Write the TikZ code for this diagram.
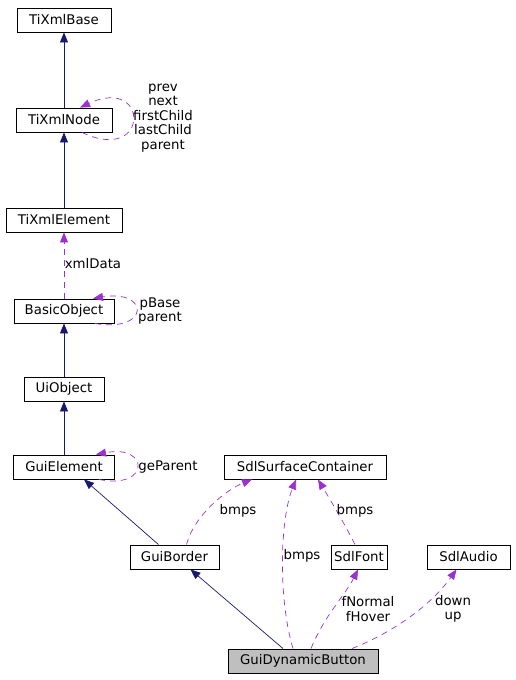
\documentclass[tikz,border=0pt]{standalone}
\usepackage{fontspec}
\setmainfont{DejaVu Sans}
\usepackage{xcolor}
\usepackage{tikz}
\usetikzlibrary{arrows.meta,calc}

\definecolor{inhblue}{HTML}{191970}
\definecolor{usepurple}{HTML}{9A32CD}
\definecolor{mainfill}{HTML}{BFBFBF}

\tikzset{
  classbox/.style={draw=black, line width=0.9pt, minimum height=24pt, inner sep=0pt,
    font=\fontsize{13.3}{14.5}\selectfont},
  inherit/.style={draw=inhblue, line width=0.7pt, -{Triangle[length=10pt,width=8pt]}, inhblue},
  member/.style={draw=usepurple, line width=0.7pt, dash pattern=on 6pt off 5pt,
    -{Triangle[length=10pt,width=8pt]}, usepurple},
  varname/.style={align=center, inner sep=0pt, font=\fontsize{13.3}{14.5}\selectfont}
}

\begin{document}
\begin{tikzpicture}[x=1pt, y=-1pt]
      \useasboundingbox (0,0) rectangle (515,680);

      % Draw classes
      \node[classbox, minimum width=94pt] (TiXmlBase) at (64,20) {TiXmlBase};
      \node[classbox, minimum width=96pt] (TiXmlNode) at (64,120) {TiXmlNode};
      \node[classbox, minimum width=116pt] (TiXmlElement) at (64,220) {TiXmlElement};
      \node[classbox, minimum width=100pt] (BasicObject) at (64,311) {BasicObject};
      \node[classbox, minimum width=80pt] (UiObject) at (64,389) {UiObject};
      \node[classbox, minimum width=101pt] (GuiElement) at (64,467) {GuiElement};
      \node[classbox, minimum width=162pt] (SdlSurfaceContainer) at (305,467) {SdlSurfaceContainer};
      \node[classbox, minimum width=89pt] (GuiBorder) at (174.5,557) {GuiBorder};
      \node[classbox, minimum width=56pt] (SdlFont) at (359,557) {SdlFont};
      \node[classbox, minimum width=83pt] (SdlAudio) at (468.5,557) {SdlAudio};
      \node[classbox, minimum width=150pt, fill=mainfill] (GuiDynamicButton) at (303,661) {GuiDynamicButton};

      % Inheritance
      \draw[inherit] (TiXmlNode) -- (TiXmlBase);
      \draw[inherit] (TiXmlElement) -- (TiXmlNode);
      \draw[inherit] (UiObject) -- (BasicObject);
      \draw[inherit] (GuiElement) -- (UiObject);
      \draw[inherit] ($(GuiBorder.north)-(16,0)$) -- ($(GuiElement.south)+(20,0)$);
      \draw[inherit] ($(GuiDynamicButton.north)-(20,0)$) -- ($(GuiBorder.south)+(16,0)$);

      % Members
      \draw[member] (BasicObject) -- (TiXmlElement);
      \draw[member] ($(TiXmlNode.south)+(18,0)$) .. controls (150,165) and (150,75) .. ($(TiXmlNode.north)+(16,0)$);
      \draw[member] ($(BasicObject.south)+(31,0)$) .. controls (150,333) and (150,289) .. ($(BasicObject.north)+(29,0)$);
      \draw[member] ($(GuiElement.south)+(35,0)$) .. controls (150,490) and (150,444) .. ($(GuiElement.north)+(32,0)$);
      \draw[member] ($(GuiBorder.north)+(12,0)$) .. controls +(8,-30) and +(-25,10) .. ($(SdlSurfaceContainer.south)-(53,0)$);
      \draw[member] ($(GuiDynamicButton.north)-(10,0)$) .. controls +(-15,-50) and +(-16,40) .. ($(SdlSurfaceContainer.south)-(9,0)$);
      \draw[member] ($(SdlFont.north)-(4,0)$) .. controls +(-10,-20) and +(12,20) .. ($(SdlSurfaceContainer.south)+(13,0)$);
      \draw[member] ($(GuiDynamicButton.north)+(8,0)$) .. controls +(14,-34) and +(-13,26) .. ($(SdlFont.south)-(1,0)$);
      \draw[member] ($(GuiDynamicButton.north)+(49,0)$) .. controls +(48,-19) and +(-22,31) .. ($(SdlAudio.south)-(12,0)$);

      % Label members
      \node[varname] (lblNode) at (163,118) {prev\\next\\firstChild\\lastChild\\parent};
      \node[varname] (lblXml) at (93,264) {xmlData};
      \node[varname] (lblBase) at (160,311) {pBase\\parent};
      \node[varname] (lblGe) at (168,467) {geParent};
      \node[varname] (lblBmpsA) at (238,511) {bmps};
      \node[varname] (lblBmpsB) at (302,556) {bmps};
      \node[varname] (lblBmpsC) at (355,511) {bmps};
      \node[varname] (lblFont) at (368,609) {fNormal\\fHover};
      \node[varname] (lblAudio) at (453,609) {down\\up};
\end{tikzpicture}
\end{document}
